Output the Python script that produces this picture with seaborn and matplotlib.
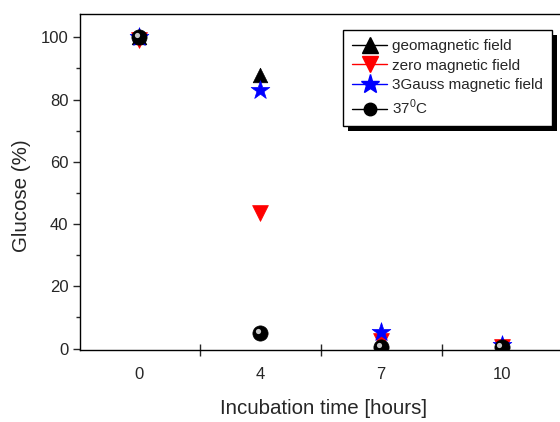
import matplotlib
matplotlib.use("Agg")
import matplotlib.pyplot as plt
import seaborn as sns
import pandas as pd
from matplotlib.lines import Line2D
from matplotlib.patches import Rectangle
from matplotlib.transforms import offset_copy, IdentityTransform

hours = ["0", "4", "7", "10"]
geomagnetic = [100, 88, 2.5, 1.0]
zero_field = [99, 43.5, 2.5, 0.5]
gauss3 = [100, 83, 5.2, 1.0]
temp37 = [100, 5, 0.5, 0.5]

series_names = ["geomagnetic field", "zero magnetic field", "3Gauss magnetic field", "37$^0$C"]
series_vals = [geomagnetic, zero_field, gauss3, temp37]

rows = []
for name, vals in zip(series_names, series_vals):
    for h, v in zip(hours, vals):
        rows.append({"hours": h, "glucose": v, "series": name})
df = pd.DataFrame(rows)

sns.set_style("ticks")
plt.rcParams["font.family"] = ["Liberation Sans", "DejaVu Sans"]
plt.rcParams["mathtext.fontset"] = "custom"
plt.rcParams["mathtext.rm"] = "Liberation Sans"

fig = plt.figure(figsize=(5.6, 4.22), dpi=100)
ax = fig.add_axes([0.143, 0.171, 0.857, 0.796])

styles = {
    "geomagnetic field": dict(marker="^", color="black", s=110),
    "zero magnetic field": dict(marker="v", color="red", s=130),
    "3Gauss magnetic field": dict(marker="*", color="blue", s=200),
    "37$^0$C": dict(marker="o", color="black", s=120),
}
for name in series_names:
    sub = df[df["series"] == name]
    st = styles[name]
    sns.scatterplot(data=sub, x="hours", y="glucose", marker=st["marker"],
                    color=st["color"], s=st["s"], edgecolor=st["color"],
                    linewidth=0.5, ax=ax, legend=False, zorder=3)
# highlight on spheres
sub = df[df["series"] == "37$^0$C"]
sns.scatterplot(data=sub, x="hours", y="glucose", marker="o", color="#c8c8c8",
                s=14, linewidth=0, ax=ax, legend=False, zorder=4)
ax.collections[-1].set_offset_transform(
    offset_copy(ax.transData, fig=fig, x=-2.5, y=2.5, units="dots"))

ax.set_xlim(-0.49, 3.48)
ax.set_ylim(-0.4, 107.5)
ax.set_yticks([0, 20, 40, 60, 80, 100])
ax.set_yticks([10, 30, 50, 70, 90], minor=True)
ax.set_xticks([0, 1, 2, 3])
ax.set_xticklabels(hours)
ax.set_xticks([0.5, 1.5, 2.5], minor=True)
ax.tick_params(axis="x", which="major", length=0, labelsize=12, pad=12)
ax.tick_params(axis="x", which="minor", length=8, direction="inout", width=1)
ax.tick_params(axis="y", which="major", length=5, direction="out", labelsize=12, width=1)
ax.tick_params(axis="y", which="minor", length=3, direction="out", width=1)
ax.set_xlabel("Incubation time [hours]", fontsize=14.8)
ax.set_ylabel("Glucose (%)", fontsize=14.8)
ax.xaxis.set_label_coords(0.508, -0.146)
ax.yaxis.set_label_coords(-0.102, 0.46)
for sp in ["left", "top", "bottom"]:
    ax.spines[sp].set_visible(True)
    ax.spines[sp].set_linewidth(1)
    ax.spines[sp].set_color("black")
ax.spines["right"].set_visible(False)

handles = [
    Line2D([], [], color="black", lw=1, marker="^", markersize=11),
    Line2D([], [], color="red", lw=1, marker="v", markersize=11),
    Line2D([], [], color="blue", lw=1, marker="*", markersize=14),
    Line2D([], [], color="black", lw=1, marker="o", markersize=9),
]
leg = ax.legend(handles, series_names, loc="upper right", bbox_to_anchor=(0.983, 0.952),
                borderaxespad=0, fontsize=11, frameon=True, fancybox=False,
                edgecolor="black", framealpha=1, handlelength=2.3,
                handletextpad=0.3, labelspacing=0.36, borderpad=0.6)
leg.get_frame().set_linewidth(1)
leg.set_zorder(10)

fig.canvas.draw()
bb = leg.get_window_extent()
shadow = Rectangle((bb.x0 + 5, bb.y0 - 5), bb.width, bb.height, transform=IdentityTransform(),
                   facecolor="black", edgecolor="none", zorder=9)
ax.add_artist(shadow)

fig.savefig("out.png", dpi=100)
